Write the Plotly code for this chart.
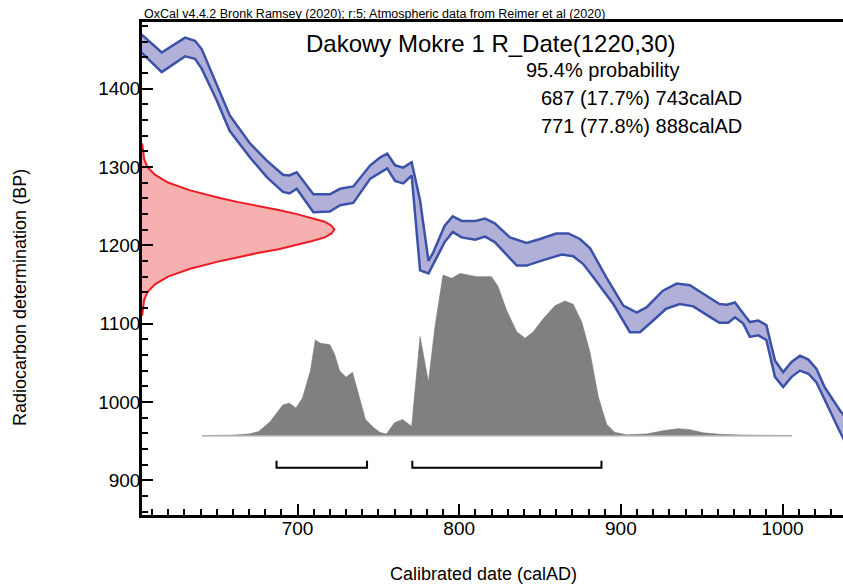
import plotly.graph_objects as go

# ---------------- data ----------------
# Calibration curve (IntCal20) band edges: calendar year (AD) and BP
curve_hi_x = [603, 604.6, 616, 630.4, 636.6, 640.8, 650, 658, 670.6, 681, 691, 695, 699.5, 709.8, 720, 726.3, 734.5, 745, 751, 755.5, 760.3, 765.4, 770.6, 775.8, 781, 784, 791, 796, 801.5, 810, 816, 822, 831.4, 841.7, 850, 860, 867.5, 874.7, 881, 891, 901.5, 909.8, 916, 926, 934.5, 942.7, 951, 961, 965.5, 970.6, 975.7, 979.8, 985, 990, 995.3, 1000.4, 1005.6, 1010.8, 1016, 1021, 1026, 1035.5, 1040]
curve_hi_y = [1470, 1467, 1446, 1465, 1461, 1450, 1406, 1366, 1330, 1308, 1290, 1289, 1293, 1265, 1265, 1272, 1275, 1302, 1312, 1317, 1302, 1299, 1306, 1257, 1180, 1191, 1225, 1237, 1231, 1231, 1234, 1228, 1210, 1203, 1208, 1215, 1215, 1208, 1196, 1159, 1123, 1114, 1121, 1142, 1151, 1149, 1138, 1125, 1124, 1127, 1113, 1102, 1104, 1098, 1053, 1038, 1051, 1059, 1054, 1042, 1019, 989, 978]
curve_lo_x = [603, 604.6, 616, 630.4, 636.6, 640.8, 650, 658, 670.6, 681, 691, 695, 699.5, 709.8, 720, 726.3, 734.5, 745, 751, 755.5, 760.3, 765.4, 770.6, 775.8, 781, 791, 796, 801.5, 810, 816, 822, 835.6, 841.7, 852, 863.4, 870.5, 876.7, 883, 895.3, 905.6, 911.8, 920, 928, 936.5, 944.8, 957, 961, 966.4, 970.6, 975.7, 979.8, 985, 990, 995.3, 1000.4, 1005.6, 1010.8, 1016, 1021, 1026, 1035.5, 1040]
curve_lo_y = [1447, 1444, 1421, 1441, 1438, 1425, 1385, 1346, 1312, 1287, 1268, 1266, 1272, 1242, 1243, 1251, 1254, 1285, 1292, 1298, 1282, 1279, 1289, 1168, 1164, 1204, 1217, 1210, 1207, 1211, 1204, 1174, 1174, 1181, 1188, 1186, 1176, 1159, 1125, 1089, 1089, 1104, 1119, 1125, 1122, 1106, 1101, 1101, 1108, 1100, 1083, 1085, 1079, 1032, 1019, 1032, 1040, 1036, 1025, 1002, 962, 944]

# Radiocarbon measurement R_Date(1220,30): BP values and relative probability
rdate_bp = [1110, 1130, 1140, 1150, 1160, 1170, 1180, 1185, 1190, 1195, 1200, 1205, 1210, 1215, 1220,
            1225, 1230, 1235, 1240, 1245, 1250, 1255, 1260, 1270, 1280, 1290, 1300, 1310, 1330]
rdate_p = [0.001, 0.011, 0.028, 0.067, 0.135, 0.25, 0.41, 0.50, 0.60, 0.71, 0.80, 0.88, 0.95, 0.985, 1.0,
           0.985, 0.95, 0.88, 0.80, 0.71, 0.60, 0.50, 0.41, 0.25, 0.135, 0.067, 0.028, 0.011, 0.001]

# Calibrated (posterior) probability distribution: calendar year and relative probability
post_year = [641, 660, 670, 676, 683, 688, 691, 695, 699, 703, 708, 711, 714, 720, 723, 726, 730, 734, 737, 742, 747, 751, 755, 760, 765, 770.6, 775.8, 781, 785, 790, 795.4, 800.5, 810.8, 820, 824, 829.4, 835.6, 840.7, 845.8, 852, 859.2, 865.4, 870.5, 875.8, 881, 886, 891.2, 896.3, 903.5, 916, 926, 935.3, 942.7, 951, 961, 978, 1005.6]
post_p = [0, 0.003, 0.01, 0.025, 0.085, 0.15, 0.19, 0.20, 0.17, 0.23, 0.40, 0.59, 0.57, 0.56, 0.50, 0.40, 0.36, 0.39, 0.28, 0.10, 0.05, 0.02, 0.01, 0.08, 0.10, 0.057, 0.61, 0.33, 0.67, 0.99, 0.97, 1.0, 0.98, 0.98, 0.92, 0.77, 0.64, 0.60, 0.64, 0.72, 0.80, 0.83, 0.81, 0.70, 0.51, 0.24, 0.07, 0.02, 0.005, 0.01, 0.03, 0.043, 0.037, 0.017, 0.008, 0.003, 0]

# 95.4% ranges
range_start = [687, 771]
range_end = [743, 888]

title_text = "Dakowy Mokre 1 R_Date(1220,30)"
prob_lines = ["95.4% probability", "687 (17.7%) 743calAD", "771 (77.8%) 888calAD"]
credit = "OxCal v4.4.2 Bronk Ramsey (2020); r:5; Atmospheric data from Reimer et al (2020)"

# ---------------- layout constants ----------------
XMIN, XMAX = 603.8, 1037.4
YMIN, YMAX = 855.7, 1484.9
W, H = 843, 586
ML, MR, MT, MB = 142, 0, 22, 71
PW, PH = W - ML - MR, H - MT - MB

RDATE_WIDTH = 119      # years of horizontal extent for the peak of the measurement curve
POST_BASE = 957        # BP level of posterior baseline
POST_HEIGHT = 207      # BP height of posterior maximum
BRACKET_Y = 916
BRACKET_TICK = 9

FONT = "Liberation Sans, Arial, sans-serif"

def px(x):
    return (x - ML) / PW

def py(y):
    return (H - MB - y) / PH

fig = go.Figure()

# calibration band
band_x = curve_hi_x + curve_lo_x[::-1]
band_y = curve_hi_y + curve_lo_y[::-1]
fig.add_trace(go.Scatter(x=band_x, y=band_y, mode="lines", fill="toself",
                         fillcolor="rgb(176,176,217)",
                         line=dict(color="rgb(60,82,168)", width=2.5),
                         hoverinfo="skip", showlegend=False))

# radiocarbon measurement distribution (on y axis)
r_x = [XMIN + RDATE_WIDTH * p for p in rdate_p]
fig.add_trace(go.Scatter(x=[XMIN] + r_x + [XMIN], y=[rdate_bp[0]] + rdate_bp + [rdate_bp[-1]],
                         mode="lines", fill="toself", fillcolor="rgb(246,176,176)",
                         line=dict(color="rgba(0,0,0,0)", width=0),
                         hoverinfo="skip", showlegend=False))
fig.add_trace(go.Scatter(x=r_x, y=rdate_bp, mode="lines",
                         line=dict(color="rgb(236,28,36)", width=2),
                         hoverinfo="skip", showlegend=False))

# posterior distribution
p_y = [POST_BASE + POST_HEIGHT * p for p in post_p]
fig.add_trace(go.Scatter(x=post_year + [post_year[-1], post_year[0]],
                         y=p_y + [POST_BASE, POST_BASE],
                         mode="lines", fill="toself", fillcolor="rgb(128,128,128)",
                         line=dict(color="rgb(120,120,120)", width=0.6),
                         hoverinfo="skip", showlegend=False))
fig.add_trace(go.Scatter(x=[post_year[0], post_year[-1]], y=[POST_BASE, POST_BASE],
                         mode="lines", line=dict(color="rgb(175,175,175)", width=1.5),
                         hoverinfo="skip", showlegend=False))

# range brackets
for s, e in zip(range_start, range_end):
    fig.add_trace(go.Scatter(x=[s, s, e, e],
                             y=[BRACKET_Y + BRACKET_TICK, BRACKET_Y, BRACKET_Y, BRACKET_Y + BRACKET_TICK],
                             mode="lines", line=dict(color="black", width=2),
                             hoverinfo="skip", showlegend=False))

annots = [
    dict(text=credit, x=px(142), y=py(14), xanchor="left", yanchor="middle",
         font=dict(size=12.5, color="black", family=FONT)),
    dict(text=title_text, x=px(304), y=py(44), xanchor="left", yanchor="middle",
         font=dict(size=24, color="black", family=FONT)),
    dict(text=prob_lines[0], x=px(524), y=py(70), xanchor="left", yanchor="middle",
         font=dict(size=20, color="black", family=FONT)),
    dict(text=prob_lines[1], x=px(539), y=py(98), xanchor="left", yanchor="middle",
         font=dict(size=20, color="black", family=FONT)),
    dict(text=prob_lines[2], x=px(539), y=py(126), xanchor="left", yanchor="middle",
         font=dict(size=20, color="black", family=FONT)),
    dict(text="Radiocarbon determination (BP)", x=px(20), y=py(298), textangle=-90,
         xanchor="center", yanchor="middle", font=dict(size=18, color="black", family=FONT)),
    dict(text="Calibrated date (calAD)", x=px(483), y=py(574), xanchor="center", yanchor="middle",
         font=dict(size=18, color="black", family=FONT)),
]
for a in annots:
    a.update(xref="paper", yref="paper", showarrow=False)

axis_common = dict(showgrid=False, zeroline=False, showline=True, linecolor="black", linewidth=2.5,
                   ticks="inside", ticklen=11, tickwidth=2, tickcolor="black",
                   tickfont=dict(size=19, color="black", family=FONT))

fig.update_layout(
    width=W, height=H,
    margin=dict(l=ML, r=MR, t=MT, b=MB),
    paper_bgcolor="white", plot_bgcolor="white",
    xaxis=dict(range=[XMIN, XMAX], tickmode="array", tickvals=[700, 800, 900, 1000],
               mirror=True, ticklabelstandoff=-6,
               minor=dict(dtick=10, tick0=600, ticks="inside", ticklen=6, tickwidth=1.5, tickcolor="black"),
               **axis_common),
    yaxis=dict(range=[YMIN, YMAX], tickmode="array", tickvals=[900, 1000, 1100, 1200, 1300, 1400],
               ticklabelstandoff=-5,
               minor=dict(dtick=20, tick0=800, ticks="inside", ticklen=6, tickwidth=1.5, tickcolor="black"),
               **axis_common),
    annotations=annots,
    font=dict(family=FONT),
)

fig.write_html("out.html", config={"displayModeBar": False},
               post_script="document.body.style.margin='0';document.body.style.overflow='hidden';")
